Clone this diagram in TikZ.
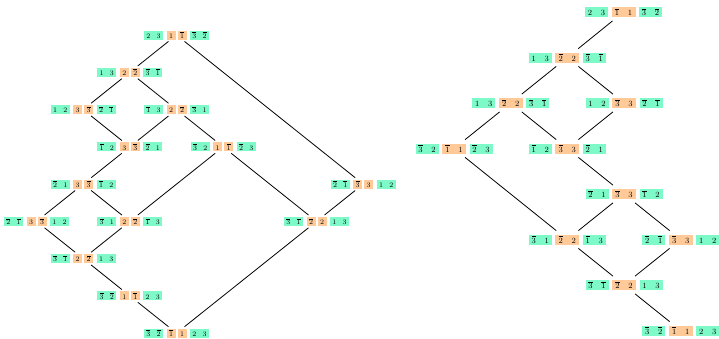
\documentclass[tikz,border=0pt]{standalone}
\usetikzlibrary{fit}
\definecolor{cgreen}{RGB}{125,250,200}
\definecolor{corange}{RGB}{255,202,152}
\newcommand{\ob}[1]{\overline{#1}}
\newcommand{\lpair}[2]{$#1$\hspace{6.25pt}$#2$}
\newcommand{\rpair}[2]{$#1$\hspace{8.75pt}$#2$}
\tikzset{
  cell/.style={inner sep=0pt, text height=6.5pt, text depth=0pt},
  lcell/.style={cell, font=\fontsize{7.5}{9}\selectfont, minimum height=9pt},
  lg/.style={lcell, fill=cgreen, minimum width=19pt},
  lo/.style={lcell, fill=corange, minimum width=9pt},
  rcell/.style={cell, font=\fontsize{8.5}{10}\selectfont, minimum height=10pt, text height=7pt},
  rg/.style={rcell, fill=cgreen, minimum width=23pt},
  ro/.style={rcell, fill=corange, minimum width=24pt},
  lhub/.style={inner xsep=0pt, inner ysep=1.5pt},
  rhub/.style={inner xsep=0pt, inner ysep=3.5pt},
  link/.style={draw=black, line width=0.8pt},
}
\newcommand{\lrow}[9]{%
  \node[lg] (#1g1) at ({#2-23},#3) {\lpair{#4}{#5}};
  \node[lo] (#1o1) at ({#2-5.5},#3) {$#6$};
  \node[lo] (#1o2) at ({#2+5.5},#3) {$#7$};
  \node[lg] (#1g2) at ({#2+23},#3) {\lpair{#8}{#9}};
  \node[lhub, fit=(#1o1)(#1o2)] (#1) {};
}
\newcommand{\rrow}[9]{%
  \node[rg] (#1g1) at ({#2-27},#3) {\rpair{#4}{#5}};
  \node[ro] (#1o) at (#2,#3) {\rpair{#6}{#7}};
  \node[rg] (#1g2) at ({#2+27},#3) {\rpair{#8}{#9}};
  \node[rhub, fit=(#1o)] (#1) {};
}
\begin{document}
\begin{tikzpicture}[x=1pt, y=-1pt]
\useasboundingbox (0,0) rectangle (719,338);
% left diagram
\lrow{La}{176.5}{35}{2}{3}{1}{\ob1}{\ob3}{\ob2}
\lrow{Lb}{129.8}{72.3}{1}{3}{2}{\ob2}{\ob3}{\ob1}
\lrow{Lc}{83.2}{109.6}{1}{2}{3}{\ob3}{\ob2}{\ob1}
\lrow{Ld}{176.5}{109.6}{\ob1}{3}{2}{\ob2}{\ob3}{1}
\lrow{Le}{129.8}{146.9}{\ob1}{2}{3}{\ob3}{\ob2}{1}
\lrow{Lf}{223.2}{146.9}{\ob3}{2}{1}{\ob1}{\ob2}{3}
\lrow{Lg}{83.2}{184.1}{\ob2}{1}{3}{\ob3}{\ob1}{2}
\lrow{Lh}{363.2}{184.1}{\ob2}{\ob1}{\ob3}{3}{1}{2}
\lrow{Li}{36.5}{221.4}{\ob2}{\ob1}{3}{\ob3}{1}{2}
\lrow{Lj}{129.8}{221.4}{\ob3}{1}{2}{\ob2}{\ob1}{3}
\lrow{Lk}{316.5}{221.4}{\ob3}{\ob1}{\ob2}{2}{1}{3}
\lrow{Ll}{83.2}{258.6}{\ob3}{\ob1}{2}{\ob2}{1}{3}
\lrow{Lm}{129.8}{295.9}{\ob3}{\ob2}{1}{\ob1}{2}{3}
\lrow{Ln}{176.5}{333.1}{\ob3}{\ob2}{\ob1}{1}{2}{3}
\draw[link] (La) -- (Lb);
\draw[link] (La) -- (Lh);
\draw[link] (Lb) -- (Lc);
\draw[link] (Lb) -- (Ld);
\draw[link] (Lc) -- (Le);
\draw[link] (Ld) -- (Le);
\draw[link] (Ld) -- (Lf);
\draw[link] (Le) -- (Lg);
\draw[link] (Lf) -- (Lj);
\draw[link] (Lf) -- (Lk);
\draw[link] (Lg) -- (Li);
\draw[link] (Lg) -- (Lj);
\draw[link] (Lh) -- (Lk);
\draw[link] (Li) -- (Ll);
\draw[link] (Lj) -- (Ll);
\draw[link] (Ll) -- (Lm);
\draw[link] (Lm) -- (Ln);
\draw[link] (Lk) -- (Ln);
% right diagram
\rrow{Ra}{623.5}{12}{2}{3}{\ob1}{1}{\ob3}{\ob2}
\rrow{Rb}{567.3}{57.5}{1}{3}{\ob2}{2}{\ob3}{\ob1}
\rrow{Rc}{510.7}{103}{1}{3}{\ob2}{2}{\ob3}{\ob1}
\rrow{Rd}{624}{103}{1}{2}{\ob3}{3}{\ob2}{\ob1}
\rrow{Re}{454}{148.5}{\ob3}{2}{\ob1}{1}{\ob2}{3}
\rrow{Rf}{567.3}{148.5}{\ob1}{2}{\ob3}{3}{\ob2}{1}
\rrow{Rg}{624}{194}{\ob2}{1}{\ob3}{3}{\ob1}{2}
\rrow{Rh}{567.3}{239.5}{\ob3}{1}{\ob2}{2}{\ob1}{3}
\rrow{Ri}{680.7}{239.5}{\ob2}{\ob1}{\ob3}{3}{1}{2}
\rrow{Rj}{624}{285}{\ob3}{\ob1}{\ob2}{2}{1}{3}
\rrow{Rk}{680.7}{330.5}{\ob3}{\ob2}{\ob1}{1}{2}{3}
\draw[link] (Ra) -- (Rb);
\draw[link] (Rb) -- (Rc);
\draw[link] (Rb) -- (Rd);
\draw[link] (Rc) -- (Re);
\draw[link] (Rc) -- (Rf);
\draw[link] (Rd) -- (Rf);
\draw[link] (Re) -- (Rh);
\draw[link] (Rf) -- (Rg);
\draw[link] (Rg) -- (Rh);
\draw[link] (Rg) -- (Ri);
\draw[link] (Rh) -- (Rj);
\draw[link] (Ri) -- (Rj);
\draw[link] (Rj) -- (Rk);
\end{tikzpicture}
\end{document}
